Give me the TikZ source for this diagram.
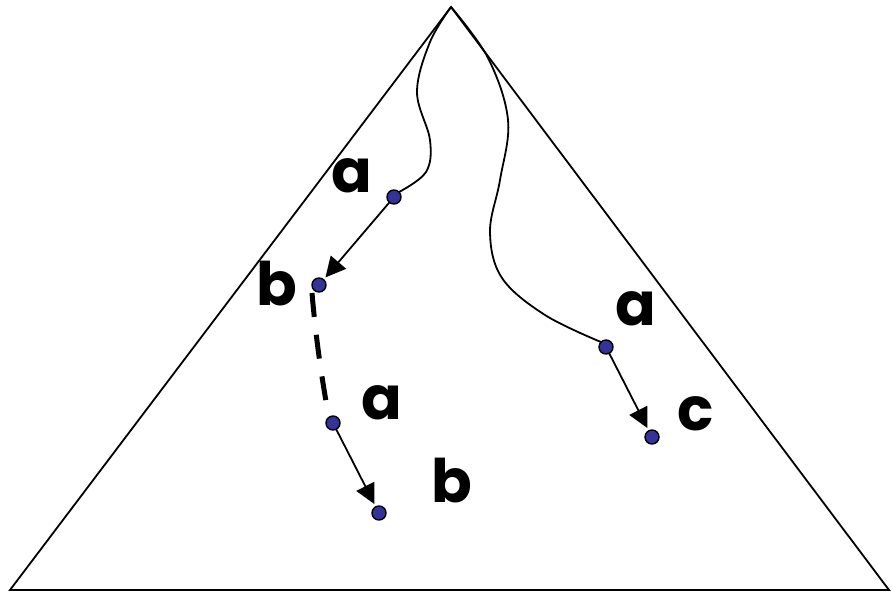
\documentclass[tikz,border=0pt]{standalone}
\usepackage{fontspec}
\setmainfont{Poppins}
\usetikzlibrary{arrows.meta}
\definecolor{dotblue}{RGB}{51,51,153}
\tikzset{
  dot/.style={circle,draw=black,line width=1.4pt,fill=dotblue,minimum size=14pt,inner sep=0pt,outer sep=0pt},
  lbl/.style={font=\fontsize{60}{60}\selectfont\bfseries,inner sep=0pt},
  arr/.style={line width=1.8pt,-{Triangle[length=20pt,width=20pt]},shorten >=3pt},
  edge/.style={line width=1.8pt},
}
\begin{document}
\begin{tikzpicture}[x=1pt,y=-1pt]
\useasboundingbox (0,0) rectangle (893,592);
\coordinate (L) at (10,590);
\coordinate (R) at (889,590);
\coordinate (T) at (451,7);
\draw[edge] (L) -- (T) -- (R) -- cycle;
\node[dot] (a1) at (394,197) {};
\node[dot] (b1) at (319,285) {};
\node[dot] (a2) at (333,423) {};
\node[dot] (b2) at (379,513) {};
\node[dot] (a3) at (606,347) {};
\node[dot] (c3) at (652,437) {};
\node[lbl] (la1) at (352,176) {a};
\node[lbl] (lb1) at (277,284) {b};
\node[lbl] (la2) at (382,403) {a};
\node[lbl] (lb2) at (452,481) {b};
\node[lbl] (la3) at (636,309) {a};
\node[lbl] (lc3) at (696,414) {c};
\draw[edge] plot[smooth,tension=0.6] coordinates {(T) (430,42) (417,92) (430,140) (426,172) (a1.north east)};
\draw[edge] plot[smooth,tension=0.6] coordinates {(T) (488,58) (508,120) (500,180) (490,232) (502,278) (545,315) (a3.north west)};
\draw[arr] (a1) -- (b1);
\draw[arr] (a2) -- (b2);
\draw[arr] (a3) -- (c3);
\coordinate (d1) at (312,293);
\coordinate (d2) at (329,418);
\draw[line width=5pt,dash pattern=on 24pt off 18pt] (d1) .. controls (316,340) and (322,380) .. (d2);
\end{tikzpicture}
\end{document}
